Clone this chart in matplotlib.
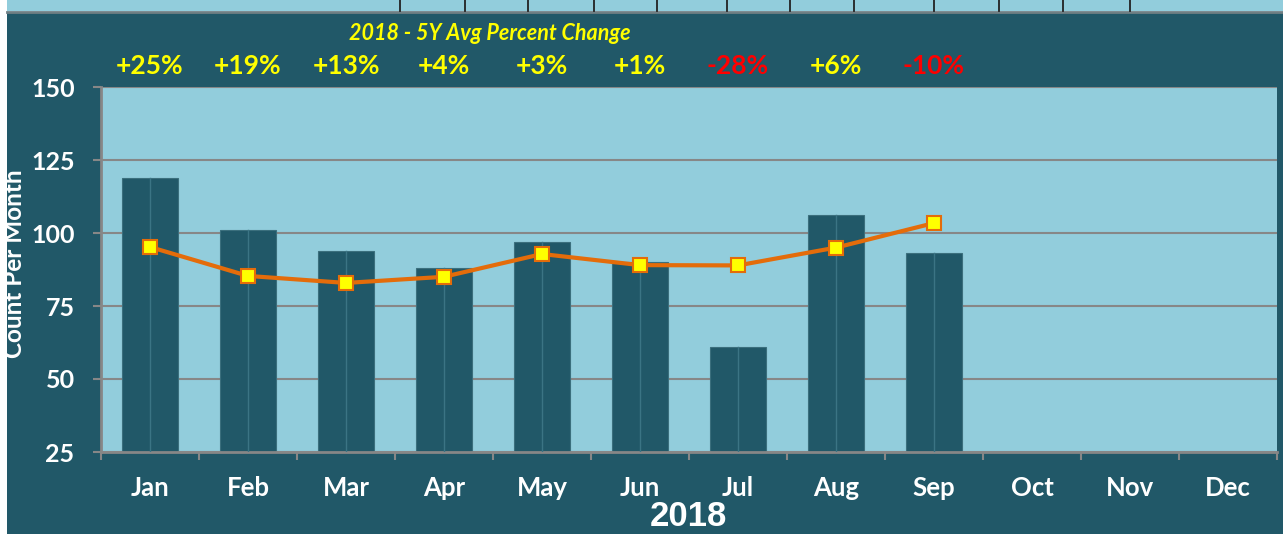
import numpy as np
import matplotlib
matplotlib.use('Agg')
from matplotlib import pyplot as plt
from matplotlib.patches import Rectangle

plt.rcParams['font.family'] = ['Lato', 'DejaVu Sans']

months = ['Jan', 'Feb', 'Mar', 'Apr', 'May', 'Jun', 'Jul', 'Aug', 'Sep', 'Oct', 'Nov', 'Dec']
counts_2018 = [119, 101, 94, 88, 97, 90, 61, 106, 93]
avg_5y = [95.2, 85.3, 82.9, 85.0, 92.8, 89.0, 88.9, 95.0, 103.4]
pct_change = ['+25%', '+19%', '+13%', '+4%', '+3%', '+1%', '-28%', '+6%', '-10%']

dark = '#215868'
light = '#92CDDC'
orange = '#E46C0A'
grid_col = '#878787'

W, H = 1283, 534
fig = plt.figure(figsize=(W / 100, H / 100), dpi=100, facecolor='white')

# background panels (spreadsheet look)
fig.patches.append(Rectangle((7 / W, 0), 1 - 7 / W, (H - 12) / H, transform=fig.transFigure,
                             facecolor=dark, edgecolor='none', zorder=-5))
fig.patches.append(Rectangle((7 / W, (H - 11) / H), 1 - 7 / W, 11 / H, transform=fig.transFigure,
                             facecolor=light, edgecolor='none', zorder=-5))
fig.add_artist(plt.Line2D([7 / W, 1], [(H - 11.5) / H] * 2, transform=fig.transFigure,
                          color='#6f7f84', lw=2, zorder=-4))
cell_lines = [400, 465, 528, 594, 657, 727, 790, 854, 934, 999, 1063, 1130]
for cx in cell_lines:
    fig.add_artist(plt.Line2D([cx / W] * 2, [(H - 10.5) / H, 1], transform=fig.transFigure,
                              color='#222222', lw=1.3, zorder=-4))

ax = fig.add_axes([101 / W, (H - 452) / H, (1277 - 101) / W, (452 - 87) / H])
ax.set_zorder(2)
ax.set_facecolor(light)

x = np.arange(len(months))
n = len(counts_2018)
bars = ax.bar(x[:n], [c - 25 for c in counts_2018], bottom=25, width=0.57,
              color=dark, edgecolor='#3b6f7d', linewidth=0.8, zorder=2)
for xi, c in zip(x[:n], counts_2018):
    ax.plot([xi, xi], [25, c], color='#3b7484', lw=1, zorder=3)

ax.plot(x[:n], avg_5y, color=orange, lw=3, marker='s', markersize=10,
        markerfacecolor='#FFFF00', markeredgecolor=orange, markeredgewidth=1.5, zorder=4)

ax.set_xlim(-0.5, len(months) - 0.5)
ax.set_ylim(25, 150)
ax.set_yticks(np.arange(25, 151, 25))
ax.yaxis.grid(True, color=grid_col, lw=1.5, zorder=1)
ax.set_axisbelow(True)

ax.set_xticks(x)
ax.set_xticklabels(months)
ax.set_xticks(np.arange(-0.5, len(months), 1), minor=True)
ax.tick_params(axis='x', which='major', length=0, pad=17, labelsize=18.5, labelcolor='white')
ax.tick_params(axis='x', which='minor', length=6, width=1.5, color=grid_col, direction='out')
ax.tick_params(axis='y', length=6, width=1.5, color=grid_col, pad=13, labelsize=18, labelcolor='white')
for lab in ax.get_xticklabels() + ax.get_yticklabels():
    lab.set_fontweight('bold')

for side in ['top', 'right']:
    ax.spines[side].set_visible(False)
for side in ['left', 'bottom']:
    ax.spines[side].set_color(grid_col)
    ax.spines[side].set_linewidth(2)

ax.set_ylabel('Count Per Month', color='white', fontsize=17.5, fontweight='bold', labelpad=0)
ax.yaxis.set_label_coords(-75 / (1277 - 101), 0.515)

# percent change labels above the plot
for xi, p in zip(x[:n], pct_change):
    col = '#FF0000' if p.startswith('-') else '#FFFF00'
    ax.text(xi, 1.057, p, transform=ax.get_xaxis_transform(), ha='center', va='center',
            color=col, fontsize=19, fontweight='bold')

fig.text(490 / W, 1 - 33 / H, '2018 - 5Y Avg Percent Change', ha='center', va='center',
         color='#FFFF00', fontsize=15.5, fontweight='bold', style='italic')
fig.text(688 / W, 1 - 516 / H, '2018', ha='center', va='center', color='white',
         fontsize=25, fontweight='bold', family='Liberation Sans')

fig.savefig('out.png', dpi=100, facecolor=fig.get_facecolor())
